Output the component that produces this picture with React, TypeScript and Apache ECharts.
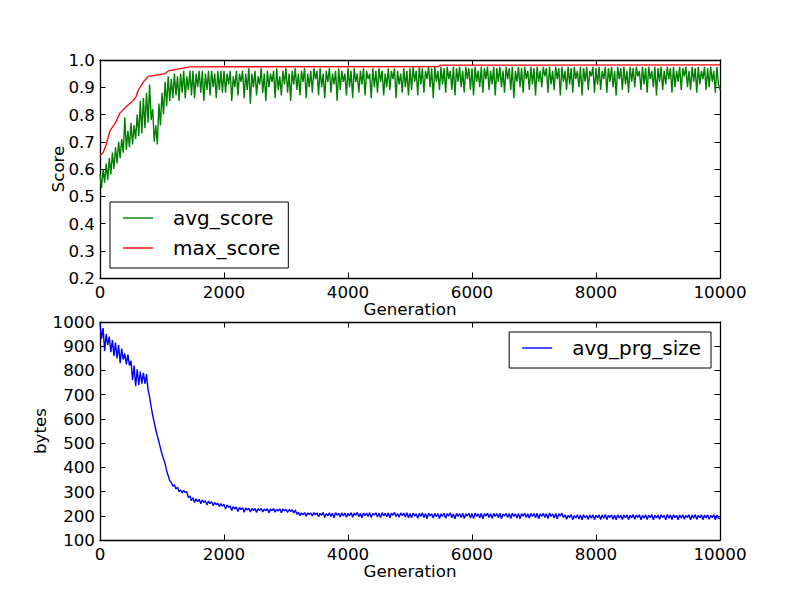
import React, { useEffect, useRef } from 'react';
import * as echarts from 'echarts';

// sampled every 25 generations, 20 samples per row
const GEN_STEP = 25;

const avgScore = [
  0.58, 0.53, 0.60, 0.55, 0.62, 0.56, 0.64, 0.58, 0.66, 0.60, 0.68, 0.62, 0.70, 0.64, 0.71, 0.66, 0.79, 0.67, 0.74, 0.68,
  0.77, 0.69, 0.76, 0.71, 0.80, 0.72, 0.85, 0.73, 0.86, 0.75, 0.88, 0.77, 0.91, 0.78, 0.82, 0.70, 0.76, 0.69, 0.84, 0.76,
  0.88, 0.80, 0.92, 0.83, 0.94, 0.85, 0.93, 0.86, 0.95, 0.87, 0.94, 0.85, 0.95, 0.88, 0.96, 0.86, 0.94, 0.89, 0.96, 0.87,
  0.96, 0.86, 0.95, 0.90, 0.96, 0.88, 0.96, 0.85, 0.95, 0.89, 0.96, 0.87, 0.96, 0.90, 0.95, 0.86, 0.96, 0.89, 0.96, 0.88,
  0.96, 0.88, 0.95, 0.91, 0.96, 0.85, 0.94, 0.90, 0.96, 0.87, 0.95, 0.92, 0.96, 0.86, 0.95, 0.89, 0.97, 0.84, 0.95, 0.90,
  0.96, 0.87, 0.94, 0.91, 0.97, 0.88, 0.95, 0.85, 0.96, 0.90, 0.95, 0.92, 0.96, 0.86, 0.97, 0.89, 0.94, 0.87, 0.96, 0.91,
  0.97, 0.88, 0.95, 0.85, 0.96, 0.91, 0.97, 0.89, 0.95, 0.87, 0.96, 0.92, 0.97, 0.86, 0.95, 0.90, 0.96, 0.88, 0.97, 0.93,
  0.96, 0.87, 0.97, 0.90, 0.95, 0.86, 0.96, 0.92, 0.97, 0.88, 0.95, 0.91, 0.96, 0.85, 0.97, 0.89, 0.96, 0.92, 0.95, 0.87,
  0.97, 0.90, 0.96, 0.86, 0.97, 0.92, 0.95, 0.88, 0.96, 0.91, 0.97, 0.87, 0.96, 0.93, 0.95, 0.86, 0.97, 0.90, 0.96, 0.88,
  0.97, 0.92, 0.96, 0.87, 0.95, 0.90, 0.97, 0.89, 0.96, 0.93, 0.97, 0.86, 0.96, 0.91, 0.95, 0.88, 0.97, 0.90, 0.96, 0.87,
  0.97, 0.89, 0.975, 0.92, 0.96, 0.87, 0.975, 0.91, 0.97, 0.88, 0.96, 0.93, 0.975, 0.90, 0.97, 0.86, 0.975, 0.92, 0.96, 0.89,
  0.975, 0.91, 0.97, 0.88, 0.975, 0.93, 0.96, 0.89, 0.975, 0.87, 0.97, 0.92, 0.975, 0.90, 0.96, 0.88, 0.975, 0.93, 0.97, 0.89,
  0.97, 0.87, 0.975, 0.92, 0.96, 0.90, 0.975, 0.88, 0.97, 0.93, 0.975, 0.89, 0.96, 0.91, 0.975, 0.87, 0.97, 0.92, 0.975, 0.90,
  0.96, 0.88, 0.975, 0.93, 0.97, 0.89, 0.975, 0.86, 0.96, 0.92, 0.975, 0.90, 0.97, 0.88, 0.975, 0.93, 0.96, 0.89, 0.975, 0.91,
  0.97, 0.87, 0.975, 0.92, 0.96, 0.90, 0.975, 0.94, 0.97, 0.88, 0.975, 0.91, 0.96, 0.89, 0.975, 0.93, 0.97, 0.87, 0.975, 0.92,
  0.96, 0.89, 0.975, 0.91, 0.97, 0.88, 0.975, 0.93, 0.96, 0.90, 0.975, 0.87, 0.97, 0.92, 0.975, 0.89, 0.96, 0.94, 0.975, 0.88,
  0.97, 0.91, 0.975, 0.89, 0.96, 0.93, 0.975, 0.88, 0.97, 0.92, 0.975, 0.90, 0.96, 0.87, 0.975, 0.93, 0.97, 0.89, 0.975, 0.91,
  0.96, 0.88, 0.975, 0.92, 0.97, 0.90, 0.975, 0.94, 0.96, 0.89, 0.975, 0.91, 0.97, 0.88, 0.975, 0.93, 0.96, 0.90, 0.975, 0.87,
  0.97, 0.92, 0.975, 0.89, 0.96, 0.91, 0.975, 0.93, 0.97, 0.88, 0.975, 0.90, 0.96, 0.92, 0.975, 0.89, 0.97, 0.94, 0.975, 0.90,
  0.96, 0.89, 0.975, 0.92, 0.97, 0.88, 0.975, 0.91, 0.96, 0.93, 0.975, 0.89, 0.97, 0.90, 0.975, 0.92, 0.96, 0.88, 0.975, 0.91,
  0.89,
];

// [generation, score] where the running maximum changes
const maxScore: [number, number][] = [
  [0, 0.65], [50, 0.66], [100, 0.69], [160, 0.74], [250, 0.77],
  [320, 0.805], [430, 0.83], [530, 0.85], [580, 0.865], [620, 0.89],
  [700, 0.92], [780, 0.94], [1050, 0.95], [1100, 0.96], [1450, 0.975],
  [5450, 0.976], [5500, 0.981], [10000, 0.982],
];

const avgPrgSize = [
  995, 930, 975, 880, 950, 905, 940, 875, 925, 860, 915, 850, 905, 830, 890, 845, 870, 825, 865, 820,
  840, 760, 820, 735, 805, 740, 795, 745, 790, 745, 785, 720, 690, 650, 615, 585, 555, 530, 505, 480,
  455, 435, 415, 385, 365, 345, 338, 322, 328, 310, 318, 300, 306, 294, 305, 296, 300, 275, 282, 262,
  275, 255, 270, 258, 268, 250, 265, 255, 262, 245, 260, 250, 258, 242, 255, 246, 252, 238, 250, 240,
  248, 228, 245, 235, 240, 222, 238, 228, 236, 218, 234, 226, 233, 215, 232, 224, 231, 216, 230, 222,
  230, 214, 229, 222, 230, 216, 228, 220, 229, 212, 228, 221, 230, 215, 227, 219, 229, 213, 228, 220,
  227, 214, 226, 218, 225, 212, 224, 206, 214, 200, 212, 204, 213, 198, 212, 205, 211, 199, 213, 204,
  212, 196, 210, 202, 214, 193, 209, 200, 212, 197, 211, 192, 213, 203, 210, 195, 212, 199, 211, 194,
  210, 200, 213, 194, 211, 202, 214, 196, 209, 192, 212, 201, 211, 197, 213, 193, 210, 203, 212, 195,
  211, 193, 213, 200, 210, 196, 212, 192, 211, 202, 214, 197, 209, 194, 212, 201, 211, 195, 213, 192,
  209, 192, 211, 199, 208, 190, 210, 197, 212, 193, 209, 188, 211, 199, 208, 191, 210, 196, 209, 189,
  208, 198, 211, 190, 209, 199, 212, 192, 208, 188, 210, 197, 209, 193, 211, 189, 208, 199, 210, 191,
  209, 189, 211, 198, 208, 192, 210, 188, 209, 199, 211, 193, 208, 190, 210, 197, 209, 192, 211, 188,
  208, 199, 210, 193, 209, 189, 211, 197, 208, 191, 210, 188, 209, 198, 211, 193, 208, 190, 210, 197,
  209, 192, 211, 188, 208, 198, 210, 193, 209, 189, 211, 197, 208, 191, 210, 188, 209, 199, 211, 193,
  204, 186, 202, 193, 205, 184, 201, 191, 204, 187, 203, 183, 204, 192, 201, 185, 203, 190, 204, 184,
  202, 192, 204, 185, 203, 190, 205, 184, 202, 193, 204, 186, 203, 183, 204, 191, 202, 185, 203, 192,
  204, 184, 202, 191, 205, 186, 203, 193, 204, 183, 202, 190, 204, 185, 203, 192, 205, 184, 202, 191,
  203, 186, 204, 193, 202, 183, 205, 190, 203, 185, 204, 192, 202, 184, 203, 191, 204, 186, 202, 193,
  204, 183, 203, 190, 205, 185, 202, 192, 204, 184, 203, 191, 204, 186, 202, 193, 204, 183, 203, 190,
  188,
];

const xTicks = { min: 0, max: 10000, interval: 2000 };
const FONT = 'DejaVu Sans';

const App: React.FC = () => {
  const chartRef = useRef<HTMLDivElement>(null);

  useEffect(() => {
    if (!chartRef.current) return;
    const chart = echarts.init(chartRef.current, null, { renderer: 'svg' });

    const label = { color: '#000', fontFamily: FONT, fontSize: 16.7 };
    const tick = { show: true, inside: true, length: 5.5, lineStyle: { color: '#000', width: 1 } };
    const line = { lineStyle: { color: '#000', width: 1.3 } };

    const xAxis = (gridIndex: number, position: 'top' | 'bottom') => ({
      type: 'value',
      gridIndex,
      position,
      ...xTicks,
      axisLine: { show: true, onZero: false, ...line },
      axisTick: tick,
      splitLine: { show: false },
      axisLabel:
        position === 'bottom'
          ? { ...label, margin: 5, formatter: (v: number) => String(v) }
          : { show: false },
      name: position === 'bottom' ? 'Generation' : '',
      nameLocation: 'middle',
      nameGap: 22,
      nameMoveOverlap: false,
      nameTextStyle: label,
    });

    const yAxis = (
      gridIndex: number,
      position: 'left' | 'right',
      min: number,
      max: number,
      interval: number,
      name: string,
      nameGap: number,
      fmt: (v: number) => string,
    ) => ({
      type: 'value',
      gridIndex,
      position,
      min,
      max,
      interval,
      axisLine: { show: true, onZero: false, ...line },
      axisTick: tick,
      splitLine: { show: false },
      axisLabel: position === 'left' ? { ...label, margin: 5, formatter: fmt } : { show: false },
      name: position === 'left' ? name : '',
      nameLocation: 'middle',
      nameGap,
      nameRotate: 90,
      nameMoveOverlap: false,
      nameTextStyle: label,
    });

    const toPairs = (vals: number[]) => vals.map((v, i) => [i * GEN_STEP, v]);

    const legendBase = {
      orient: 'vertical',
      backgroundColor: '#fff',
      borderColor: '#000',
      borderWidth: 1,
      borderRadius: 0,
      padding: [6, 8, 10, 13],
      itemGap: 10,
      itemWidth: 30,
      itemHeight: 1.4,
      icon: 'rect',
      textStyle: { color: '#000', fontFamily: FONT, fontSize: 20, padding: [0, 0, 0, 15] },
    };

    chart.setOption({
      animation: false,
      backgroundColor: '#fff',
      grid: [
        { left: 100, top: 60, width: 620, height: 218 },
        { left: 100, top: 322, width: 620, height: 218 },
      ],
      xAxis: [xAxis(0, 'bottom'), xAxis(0, 'top'), xAxis(1, 'bottom'), xAxis(1, 'top')],
      yAxis: [
        yAxis(0, 'left', 0.2, 1.0, 0.1, 'Score', 34, (v) => v.toFixed(1)),
        yAxis(0, 'right', 0.2, 1.0, 0.1, '', 0, (v) => v.toFixed(1)),
        yAxis(1, 'left', 100, 1000, 100, 'bytes', 52, (v) => String(v)),
        yAxis(1, 'right', 100, 1000, 100, '', 0, (v) => String(v)),
      ],
      legend: [
        { ...legendBase, left: 110, top: 202, data: ['avg_score', 'max_score'] },
        { ...legendBase, right: 89, top: 332, padding: [6, 10, 10, 13], data: ['avg_prg_size'] },
      ],
      series: [
        {
          name: 'avg_score',
          type: 'line',
          xAxisIndex: 0,
          yAxisIndex: 0,
          data: toPairs(avgScore),
          showSymbol: false,
          color: '#008000',
          lineStyle: { width: 1.4, color: '#008000' },
        },
        {
          name: 'max_score',
          type: 'line',
          xAxisIndex: 0,
          yAxisIndex: 0,
          data: maxScore,
          showSymbol: false,
          color: '#ff0000',
          lineStyle: { width: 1.3, color: '#ff0000' },
        },
        {
          name: 'avg_prg_size',
          type: 'line',
          xAxisIndex: 2,
          yAxisIndex: 2,
          data: toPairs(avgPrgSize),
          showSymbol: false,
          color: '#0000ff',
          lineStyle: { width: 1.4, color: '#0000ff' },
        },
      ],
    });

    return () => chart.dispose();
  }, []);

  return (
    <div
      ref={chartRef}
      style={{ position: 'absolute', left: 0, top: 0, width: 800, height: 600 }}
    />
  );
};

export default App;
